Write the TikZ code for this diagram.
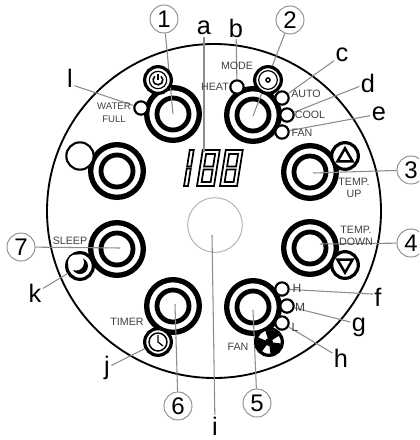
\documentclass[tikz,border=0pt]{standalone}
\usepackage{fontspec}
\setmainfont{Liberation Sans}
\usetikzlibrary{shapes.geometric}
\definecolor{leader}{HTML}{8C8C8C}
\definecolor{legend}{HTML}{404040}

\begin{document}
\begin{tikzpicture}[
    x=0.75pt, y=-0.75pt,
    btnouter/.style={draw, circle, line width=4pt, minimum size=39.5pt, inner sep=0pt, outer sep=0pt},
    btninner/.style={draw, circle, line width=3.6pt, minimum size=24pt, inner sep=0pt, outer sep=0pt},
    lamp/.style={draw, circle, fill=white, line width=1.6pt, minimum size=10pt, inner sep=0pt},
    iconbtn/.style={draw, circle, fill=white, line width=2.4pt, minimum size=20pt, inner sep=0pt},
    num/.style={draw=leader, circle, line width=0.7pt, fill=white, minimum size=21pt, inner sep=0pt, font=\fontsize{18}{18}\selectfont},
    letter/.style={inner sep=1pt, font=\fontsize{19}{19}\selectfont},
    legendtxt/.style={inner sep=0pt, text=legend, align=center, font=\fontsize{8}{9.5}\selectfont},
    lead/.style={draw=leader, line width=0.8pt},
    seg/.style={line width=1.3pt},
]
\path[use as bounding box, clip] (0,0) rectangle (419,440);

% --- Housing ---
\node[draw, circle, line width=1.4pt, minimum size=250.5pt, inner sep=0pt] (body) at (214,211) {};
\node[draw=leader!70, circle, line width=0.7pt, minimum size=41pt, inner sep=0pt] (sensor) at (215,225) {};

% --- Buttons ---
\node[btnouter] (btn1) at (173,114) {};
\node[btninner] (ring1) at (btn1) {};
\node[btnouter] (btn2) at (253,115) {};
\node[btninner] (ring2) at (btn2) {};
\node[btnouter] (btn3) at (310,172) {};
\node[btninner] (ring3) at (btn3) {};
\node[btnouter] (btn4) at (310,248) {};
\node[btninner] (ring4) at (btn4) {};
\node[btnouter] (btn5) at (253,307) {};
\node[btninner] (ring5) at (btn5) {};
\node[btnouter] (btn6) at (173,306) {};
\node[btninner] (ring6) at (btn6) {};
\node[btnouter] (btn7) at (117,249) {};
\node[btninner] (ring7) at (btn7) {};
\node[btnouter] (btn8) at (117,171) {};
\node[btninner] (ring8) at (btn8) {};

% --- Display ---
\begin{scope}[shift={(184,186)}, xslant=0.16]
\draw[seg] (0,0) rectangle (4,-17.5);
\draw[seg] (0,-19.5) rectangle (4,-36);
\end{scope}
\begin{scope}[shift={(197,186)}, xslant=0.16]
\draw[seg] (0,0) rectangle (17,-36);
\draw[seg] (4,-4) rectangle (13,-16.5);
\draw[seg] (4,-19.5) rectangle (13,-32);
\end{scope}
\begin{scope}[shift={(220,186)}, xslant=0.16]
\draw[seg] (0,0) rectangle (17,-36);
\draw[seg] (4,-4) rectangle (13,-16.5);
\draw[seg] (4,-19.5) rectangle (13,-32);
\end{scope}

% --- Callouts ---
\node[num] (n1) at (164,19) {1};
\node[num] (n2) at (290,20) {2};
\node[num] (n3) at (411,170) {3};
\node[num] (n4) at (411,243) {4};
\node[num] (n5) at (257,403) {5};
\node[num] (n6) at (178,406) {6};
\node[num] (n7) at (21,247) {7};
\node[letter] (la) at (204,28) {a};
\node[letter] (lb) at (236,28) {b};
\node[letter] (lc) at (342,55) {c};
\node[letter] (ld) at (368,83) {d};
\node[letter] (le) at (379,114) {e};
\node[letter] (lf) at (378,297) {f};
\node[letter] (lg) at (359,327) {g};
\node[letter] (lh) at (341,358) {h};
\node[letter] (li) at (215,426) {i};
\node[letter] (lj) at (107,368) {j};
\node[letter] (lk) at (35,293) {k};
\node[letter] (ll) at (70,78) {l};

\coordinate (end1) at (173,114);
\coordinate (end2) at (253,116);
\coordinate (end3) at (313,173);
\coordinate (end4) at (320,244);
\coordinate (end5) at (253,310);
\coordinate (end6) at (175,304);
\coordinate (end7) at (120,248);
\coordinate (enda) at (204,152);
\coordinate (endi) at (212,235);

% --- Lamps and icons ---
\draw[lead] (n1) -- (end1);
\draw[lead] (n2) -- (end2);
\draw[lead] (n3) -- (end3);
\draw[lead] (n4) -- (end4);
\draw[lead] (n5) -- (end5);
\draw[lead] (n6) -- (end6);
\draw[lead] (n7) -- (end7);
\draw[lead] (la) -- (enda);
\draw[lead] (li) -- (endi);

\node[lamp] (water) at (141,108) {};
\node[lamp] (heat) at (237,87) {};
\node[lamp] (auto) at (282,98) {};
\node[lamp] (cool) at (287,115) {};
\node[lamp] (fan) at (282,132) {};
\node[lamp] (high) at (282,289) {};
\node[lamp] (mid) at (287,306) {};
\node[lamp] (low) at (282,323) {};
\node[iconbtn, line width=1.6pt, minimum size=20.5pt] (spare) at (80,156) {};

\draw[lead] (lb) -- (heat);
\draw[lead] (lc) -- (auto);
\draw[lead] (ld) -- (cool);
\draw[lead] (le) -- (fan);
\draw[lead] (lf.150) -- (high);
\draw[lead] (lg.150) -- (mid);
\draw[lead] (lh.150) -- (low);
\draw[lead] (ll.-60) -- (water);

% power
\node[iconbtn] (power) at (158,80) {};
\node[draw, circle, line width=0.9pt, minimum size=13pt, inner sep=0pt] (powerring) at (power) {};
\draw[line width=1.2pt] (power.center) ++(50:3.6pt) arc[start angle=50, end angle=-230, radius=3.6pt];
\draw[line width=1.2pt] (158,74) -- (158,80);

% mode
\node[iconbtn] (mode) at (268,80) {};
\node[draw, circle, line width=0.9pt, minimum size=14pt, inner sep=0pt] (modering) at (mode) {};
\node[draw, circle, line width=1.2pt, minimum size=3pt, inner sep=0pt] (modedot) at (mode) {};

% temp
\node[iconbtn] (up) at (345,156) {};
\node[draw, regular polygon, regular polygon sides=3, line width=1.9pt, minimum size=13pt, inner sep=0pt] (uptri) at (345,157) {};
\node[iconbtn] (down) at (345,265) {};
\node[draw, regular polygon, regular polygon sides=3, shape border rotate=180, line width=1.9pt, minimum size=13pt, inner sep=0pt] (downtri) at (345,264) {};

% fan
\node[iconbtn] (fanbtn) at (269,342) {};
\fill (fanbtn.center) -- ++(32:9pt) arc[start angle=32, end angle=108, radius=9pt] -- cycle;
\fill (fanbtn.center) -- ++(157:9pt) arc[start angle=157, end angle=233, radius=9pt] -- cycle;
\fill (fanbtn.center) -- ++(277:9pt) arc[start angle=277, end angle=353, radius=9pt] -- cycle;
\fill (fanbtn.center) circle[radius=3pt];

% timer
\node[iconbtn] (timer) at (158,342) {};
\node[draw, circle, line width=1.1pt, minimum size=13.5pt, inner sep=0pt] (timerring) at (timer) {};
\draw[line width=0.9pt] (158,335) -- (158,342) -- (163,346);

% sleep
\node[iconbtn] (sleep) at (80,266) {};
\fill (sleep.center) circle[radius=6pt];
\fill[white] (76,262.5) circle[radius=6pt];

\draw[lead] (lj.30) -- (timer);
\draw[lead] (lk.30) -- (sleep);

% --- Legends ---
\node[legendtxt, font=\fontsize{7.2}{9.5}\selectfont] (txtwater) at (114,113) {WATER\\FULL};
\node[legendtxt] (txtmode) at (237,66) {MODE};
\node[legendtxt] (txtheat) at (215,87) {HEAT};
\node[legendtxt] (txtauto) at (306,94) {AUTO};
\node[legendtxt] (txtcool) at (310,115) {COOL};
\node[legendtxt] (txtfan) at (302,133) {FAN};
\node[legendtxt] (txtup) at (354,188) {TEMP.\\UP};
\node[legendtxt] (txtdown) at (356,236) {TEMP.\\DOWN};
\node[legendtxt, font=\fontsize{9}{9.5}\selectfont] (txthigh) at (297,288) {H};
\node[legendtxt, font=\fontsize{9}{9.5}\selectfont] (txtmid) at (300,307) {M};
\node[legendtxt, font=\fontsize{9}{9.5}\selectfont] (txtlow) at (295,327) {L};
\node[legendtxt] (txtfan2) at (238,347) {FAN};
\node[legendtxt] (txttimer) at (127,322) {TIMER};
\node[legendtxt] (txtsleep) at (70,241) {SLEEP};

\end{tikzpicture}
\end{document}
